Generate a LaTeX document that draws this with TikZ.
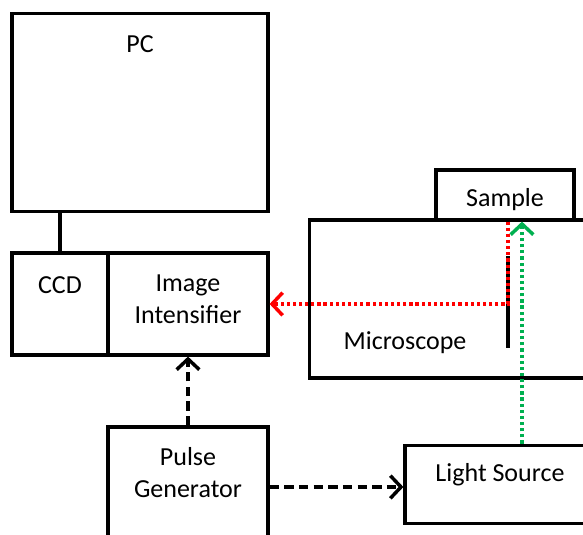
\documentclass[tikz,border=0pt]{standalone}
\usepackage{fontspec}
\setmainfont{Carlito}
\usetikzlibrary{arrows.meta, positioning, calc}
\definecolor{cred}{HTML}{FF0000}
\definecolor{cgreen}{HTML}{00B050}
\tikzset{
  box/.style={draw=black, rectangle, inner sep=0pt, line width=2.4pt},
  txt/.style={align=center, inner sep=0pt},
  dasharrow/.style={-{Straight Barb[length=8pt, width=17pt, line width=2.6pt]}, line width=2.8pt, dash pattern=on 7pt off 4pt},
  dotarrow/.style={-{Straight Barb[length=8pt, width=17pt, line width=2.6pt]}, draw=#1, line width=2.8pt, dash pattern=on 2.4pt off 2.2pt},
}

\begin{document}
\begin{tikzpicture}[x=0.75pt, y=-0.75pt, font=\fontsize{19.5}{24}\selectfont, line width=2.4pt]
  \useasboundingbox (0,0) rectangle (583,535);
  \clip (0,0) rectangle (583,535);
  % boxes
  \node[box, minimum width=192pt, minimum height=149pt] (pc) at (140,112.5) {};
  \node[box, minimum width=72pt, minimum height=76.5pt] (ccd) at (60,304) {};
  \node[box, minimum width=120pt, minimum height=76.5pt] (intens) at (188,304) {};
  \node[box, minimum width=233pt, minimum height=118.5pt] (micro) at (464.5,299) {};
  \node[box, minimum width=103.5pt, minimum height=37.5pt] (sample) at (505,195) {};
  \node[box, minimum width=120pt, minimum height=90pt] (pulse) at (188,487) {};
  \node[box, minimum width=142.5pt, minimum height=59pt] (light) at (500,484.5) {};
  % labels
  \node[txt] (pctxt) at (140,44) {PC};
  \node[txt] (ccdtxt) at (60,285) {CCD};
  \node[txt] (intenstxt) at (188,299) {Image\\Intensifier};
  \node[txt] (microtxt) at (405,343) {Microscope};
  \node[txt] (sampletxt) at (505,200) {Sample};
  \node[txt] (pulsetxt) at (188,473) {Pulse\\Generator};
  \node[txt] (lighttxt) at (500,475) {Light Source};
  % mirror and beams
  \coordinate (mirror) at (508,303);
  \coordinate (beam) at (522,400);
  \draw[line width=2.6pt] (508,256) -- (508,348);
  \draw (ccd.north) -- (pc.south -| ccd.north);
  \draw[dotarrow=cred] (sample.south -| mirror) |- (intens.east);
  \draw[dotarrow=cgreen] (light.north -| beam) -- (sample.south -| beam);
  \draw[dasharrow] (pulse.north) -- (intens.south);
  \draw[dasharrow] (pulse.east) -- (pulse.east -| light.west);
\end{tikzpicture}
\end{document}
